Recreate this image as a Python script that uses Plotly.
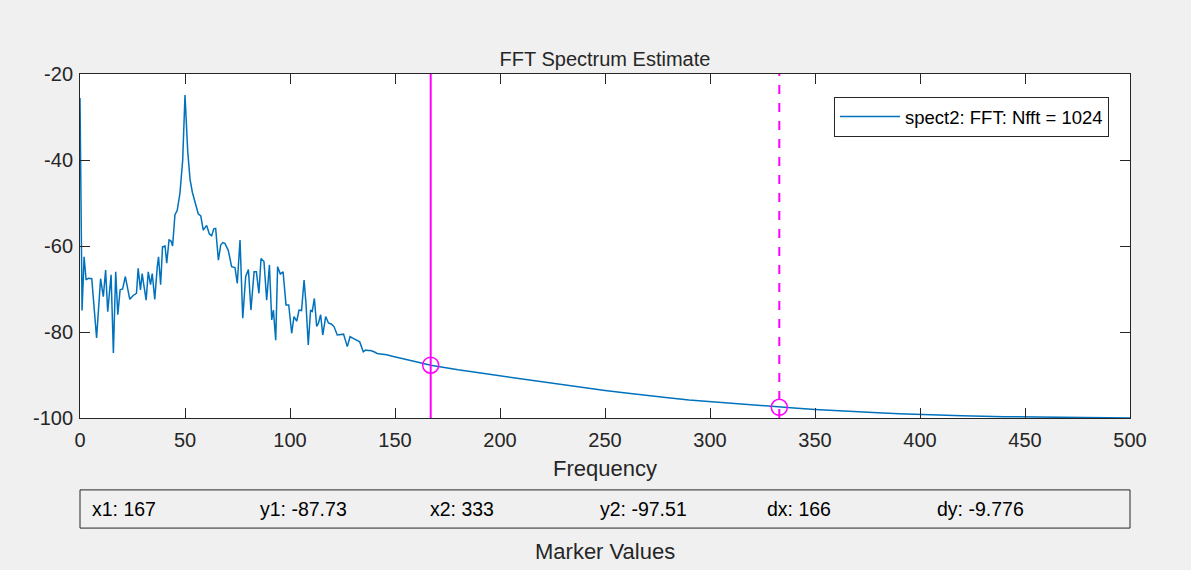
import plotly.graph_objects as go

# Spectrum estimate (Hz, dB)
freq = [0, 0.98, 1.95, 2.9, 4.0, 5.6, 7.9, 9.8, 11.1, 12.2, 13.2, 14.8, 15.9, 17.0, 18.0,
        19.1, 20.3, 21.6, 23.7, 25.3, 26.9, 27.7, 28.8, 29.6, 30.4, 31.5, 32.5, 33.6, 34.4,
        35.6, 36.8, 37.4, 38.4, 39.3, 40.5, 41.3, 42.4, 43.3, 44.1, 45.2, 46.3, 47.6, 48.9,
        50.0, 51.3, 52.4, 53.5, 55.0, 56.3, 57.5, 58.7, 60.3, 61.6, 62.7, 63.7, 64.6, 65.9,
        67.0, 68.0, 69.0, 70.6, 72.2, 73.8, 74.9, 76.2, 77.5, 78.9, 80.2, 81.4, 82.9, 84.0,
        85.2, 86.2, 87.6, 88.9, 90.2, 91.3, 92.1, 93.2, 94.1, 95.4, 96.7, 98.1, 99.4, 100.8,
        101.9, 103.2, 104.3, 105.5, 106.7, 107.6, 108.7, 109.8, 110.6, 111.6, 112.7, 113.5,
        114.6, 115.6, 117.0, 118.3, 119.8, 121.0, 122.5, 124.4, 125.5, 127.3, 128.6, 130.1,
        131.7, 133.2, 134.9, 136.0, 137.2, 138.4, 140.0, 141.5, 143.1, 146.0, 149.2, 152.4,
        160, 167, 170, 180, 190, 200, 210, 220, 230, 240, 250, 260, 270, 280, 290, 300, 310,
        320, 333, 340, 350, 360, 370, 380, 390, 400, 420, 440, 460, 480, 500]
power_db = [-25.6, -75.0, -62.5, -67.9, -67.5, -67.6, -81.4, -67.6, -71.8, -65.6, -75.3, -66.7,
            -84.9, -66.0, -76.0, -70.2, -70.0, -67.1, -72.4, -71.5, -71.0, -65.2, -70.2, -66.4,
            -69.1, -72.6, -66.0, -69.0, -66.4, -72.4, -64.8, -62.5, -69.0, -60.2, -60.0, -64.0,
            -58.6, -58.8, -60.0, -52.8, -51.7, -47.7, -40.0, -24.9, -38.0, -44.5, -47.5, -50.0,
            -52.5, -53.0, -56.3, -55.2, -57.2, -57.6, -56.0, -55.9, -63.3, -59.8, -59.2, -59.4,
            -61.0, -64.8, -65.0, -68.7, -58.6, -76.8, -67.1, -65.5, -74.9, -66.0, -66.0, -71.0,
            -62.9, -63.6, -72.6, -64.4, -77.2, -74.9, -81.9, -64.8, -66.5, -66.0, -73.7, -73.7,
            -80.3, -76.4, -77.5, -74.9, -75.0, -67.9, -73.3, -83.0, -74.9, -75.2, -72.2, -78.7,
            -78.0, -76.0, -80.7, -76.4, -77.9, -78.2, -78.8, -80.7, -80.5, -80.5, -83.4, -81.1,
            -81.5, -81.9, -82.3, -84.6, -84.2, -84.3, -84.3, -84.6, -85.0, -85.1, -85.3, -85.7,
            -86.1, -86.9, -87.73, -88.0, -88.8, -89.5, -90.2, -90.9, -91.6, -92.3, -93.0, -93.6,
            -94.2, -94.8, -95.3, -95.8, -96.2, -96.6, -97.0, -97.51, -97.7, -98.0, -98.3, -98.6,
            -98.8, -99.0, -99.2, -99.5, -99.7, -99.85, -99.95, -100.0]

# Measurement markers
marker_x = [167, 333]
marker_y = [-87.73, -97.51]
marker_dash = ["solid", "dash"]
readout_labels = ["x1: 167", "y1: -87.73", "x2: 333", "y2: -97.51", "dx: 166", "dy: -9.776"]

x_ticks = [0, 50, 100, 150, 200, 250, 300, 350, 400, 450, 500]
y_ticks = [-100, -80, -60, -40, -20]
y_tick_labels = ["-100", "-80", "-60", "-40", "-20"]

FONT = "Liberation Sans, Arial, Helvetica, sans-serif"
AXIS_COLOR = "#262626"
MAGENTA = "#ff00ff"

fig = go.Figure()

# Spectrum line
fig.add_trace(go.Scatter(x=freq, y=power_db, mode="lines",
                         name="spect2: FFT: Nfft = 1024",
                         line=dict(color="#0072bd", width=1.5)))

# Marker lines and circles
for mx, dash in zip(marker_x, marker_dash):
    fig.add_vline(x=mx, line=dict(color=MAGENTA, width=2, dash=dash))

fig.add_trace(go.Scatter(x=marker_x, y=marker_y, mode="markers", showlegend=False,
                         marker=dict(symbol="circle-open", size=16,
                                     line=dict(color=MAGENTA, width=1.5), color=MAGENTA)))

# Marker values readout box
fig.add_shape(type="rect", xref="paper", yref="paper", x0=0, x1=1, y0=-0.32, y1=-0.209,
              line=dict(color=AXIS_COLOR, width=1), fillcolor="#f0f0f0")
label_pos = [0.0095, 0.1695, 0.331, 0.493, 0.652, 0.814]
for xp, txt in zip(label_pos, readout_labels):
    fig.add_annotation(x=xp, y=-0.2645, xref="paper", yref="paper", text=txt,
                       showarrow=False, xanchor="left", yanchor="middle",
                       font=dict(size=19.5, color="#000000"))
fig.add_annotation(x=0.5, y=-0.387, xref="paper", yref="paper", text="Marker Values",
                   showarrow=False, xanchor="center", yanchor="middle",
                   font=dict(size=22, color=AXIS_COLOR))

fig.update_layout(
    width=1191, height=570,
    margin=dict(l=80, r=61, t=74, b=152),
    paper_bgcolor="#f0f0f0", plot_bgcolor="#ffffff",
    font=dict(family=FONT, color=AXIS_COLOR, size=20),
    title=dict(text="FFT Spectrum Estimate", x=0.5, xref="paper", xanchor="center",
               y=1 - 59 / 570, yanchor="middle", font=dict(size=20, color=AXIS_COLOR)),
    legend=dict(x=0.98, y=0.933, xanchor="right", yanchor="top", bgcolor="#ffffff",
                bordercolor="#262626", borderwidth=1, itemwidth=60,
                font=dict(size=18.5, color="#000000")),
    showlegend=True,
)
fig.update_xaxes(range=[0, 500], tickvals=x_ticks, ticks="inside", ticklen=10,
                 showline=True, linecolor=AXIS_COLOR, linewidth=1, mirror="ticks",
                 showgrid=False, zeroline=False, tickcolor=AXIS_COLOR, ticklabelstandoff=4,
                 title=dict(text="Frequency", font=dict(size=22), standoff=10))
fig.update_yaxes(range=[-100, -20], tickvals=y_ticks, ticktext=y_tick_labels,
                 ticks="inside", ticklen=10,
                 showline=True, linecolor=AXIS_COLOR, linewidth=1, mirror="ticks",
                 showgrid=False, zeroline=False, tickcolor=AXIS_COLOR, ticklabelstandoff=2)

fig.write_html("out.html", config={"displayModeBar": False},
               post_script="document.body.style.margin='0';"
                           "document.body.style.background='#f0f0f0';")
